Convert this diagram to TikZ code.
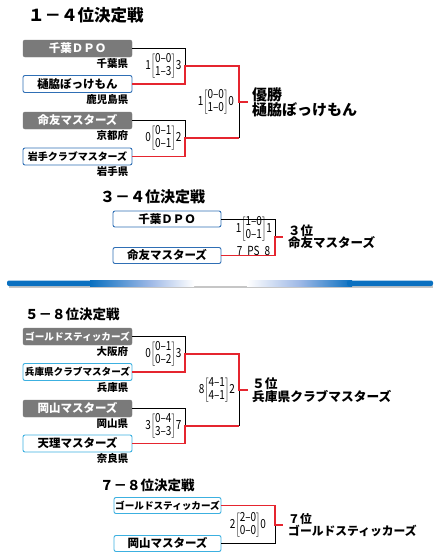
\documentclass[tikz,border=0pt]{standalone}
\usepackage{fontspec}
\usepackage{graphicx}
\setmainfont{Noto Sans CJK JP}
\usetikzlibrary{positioning}

\definecolor{lostgray}{HTML}{7A7A7A}
\definecolor{winblue}{HTML}{2F6FB5}
\definecolor{wincyan}{HTML}{3CB0E0}
\definecolor{winred}{HTML}{E5252F}
\definecolor{barblue}{HTML}{0A70C0}
\definecolor{barlight}{HTML}{9DB8E6}

% score: left, first half, second half, right
\newcommand{\score}[4]{\scalebox{0.8}[1]{#1$\left[\mbox{\begin{tabular}{@{}c@{}}#2\\#3\end{tabular}}\right]$#4}}

\tikzset{
  team/.style={
    % The shape:
    rectangle, rounded corners=2pt,
    % The size:
    minimum width=109pt, minimum height=17pt, inner sep=0pt,
    % Font
    font=\fontsize{11.5}{12}\selectfont\bfseries,
  },
  lost/.style={
    team,
    % The filling:
    fill=lostgray, draw=lostgray, text=white,
  },
  won/.style={
    team,
    % The border:
    draw=winblue, line width=0.9pt, fill=white,
  },
  wonc/.style={
    team,
    draw=wincyan, line width=0.9pt, fill=white,
  },
  small/.style={font=\fontsize{9.6}{10}\selectfont\bfseries}, % long names
  pref/.style={font=\fontsize{10.5}{11}\selectfont\bfseries, inner sep=0pt},
  title/.style={font=\fontsize{#1}{#1}\selectfont\bfseries, anchor=west, inner sep=0pt},
  result/.style={font=\fontsize{#1}{#1}\selectfont\bfseries, anchor=west, align=left, inner sep=0pt},
  scorebox/.style={font=\fontsize{12.5}{13}\selectfont, inner sep=0pt},
  lose/.style={black, line width=0.8pt},
  win/.style={winred, line width=1.8pt},
}

\begin{document}
\begin{tikzpicture}[x=1pt, y=-1pt]

  \useasboundingbox (0, 0) rectangle (440, 560);

  % ---- 1-4 ----
  \node at (28, 15) (t14) [title=16.5] {１－４位決定戦};

  \node at (77.5, 48.5) (a1) [lost] {千葉ＤＰＯ};
  \node at (77.5, 84) (a2) [won] {樋脇ぼっけもん};
  \node at (77.5, 120.5) (a3) [lost] {命友マスターズ};
  \node at (77.5, 156.5) (a4) [won, font=\fontsize{10}{10}\selectfont\bfseries] {岩手クラブマスターズ};

  \node (pa1) [pref, below left=1pt and 4pt of a1.south east] {千葉県};
  \node (pa2) [pref, below left=1pt and 4pt of a2.south east] {鹿児島県};
  \node (pa3) [pref, below left=1pt and 4pt of a3.south east] {京都府};
  \node (pa4) [pref, below left=1pt and 4pt of a4.south east] {岩手県};

  \coordinate (qa1) at (185, 66);
  \coordinate (qa2) at (185, 138);
  \coordinate (fa) at (239, 102);

  \draw [lose] (a1.east) to (a1.east -| qa1) to (qa1);
  \draw [lose] (a3.east) to (a3.east -| qa2) to (qa2);
  \draw [lose] (qa2 -| fa) to (fa);
  \draw [win] (a2.east) to (a2.east -| qa1) to (qa1) to (qa1 -| fa) to (fa) to ++(9, 0) coordinate (wa);
  \draw [win] (a4.east) to (a4.east -| qa2) to (qa2) to (qa2 -| fa);

  \node (sa1) [scorebox, left=3.5pt of qa1] {\score{1}{0–0}{1–3}{3}};
  \node (sa2) [scorebox, left=3.5pt of qa2] {\score{0}{0–1}{0–1}{2}};
  \node (sa3) [scorebox, left=5pt of fa] {\score{1}{0–0}{1–0}{0}};

  \node (ra) [result=15, right=4pt of wa] {優勝\\樋脇ぼっけもん};

  % ---- 3-4 ----
  \node at (100, 197) (t34) [title=15] {３－４位決定戦};

  \node at (167, 219) (b1) [won, minimum width=108pt, minimum height=16pt] {千葉ＤＰＯ};
  \node at (167, 255.5) (b2) [won, minimum width=108pt, minimum height=16pt] {命友マスターズ};

  \coordinate (fb) at (275, 237);
  \draw [lose] (b1.east) to (b1.east -| fb) to (fb);
  \draw [win] (b2.east) to (b2.east -| fb) to (fb) to ++(8, 0) coordinate (wb);

  \node at (272, 229) (sb) [scorebox, anchor=east] {\score{1}{1–0}{0–1}{1}};
  \node at (253.5, 251) (pk) [scorebox] {\scalebox{0.8}[1]{7\enspace PS\enspace 8}};

  \node (rb) [result=12.5, right=5pt of wb] {３位\\命友マスターズ};

  % separator
  \fill [gray!45] (9, 284.5) rectangle (433, 288);
  \fill [barblue, rounded corners=2pt] (7, 280.5) rectangle (95, 286);
  \shade [left color=barblue, right color=barlight] (90, 280.5) rectangle (150, 286);
  \shade [left color=barlight, right color=white] (150, 280.5) rectangle (194, 286);
  \fill [white] (194, 280.5) rectangle (247, 286);
  \shade [left color=white, right color=barlight] (247, 280.5) rectangle (300, 286);
  \shade [left color=barlight, right color=barblue] (300, 280.5) rectangle (352, 286);
  \fill [barblue, rounded corners=2pt] (347, 280.5) rectangle (433, 286);

  % ---- 5-8 ----
  \node at (25, 314) (t58) [title=13.5] {５－８位決定戦};

  \node at (77.5, 336.5) (c1) [lost, small] {ゴールドスティッカーズ};
  \node at (77.5, 372) (c2) [wonc, small] {兵庫県クラブマスターズ};
  \node at (77.5, 408.5) (c3) [lost] {岡山マスターズ};
  \node at (77.5, 443.5) (c4) [wonc] {天理マスターズ};

  \node (pc1) [pref, below left=1pt and 4pt of c1.south east] {大阪府};
  \node (pc2) [pref, below left=1pt and 4pt of c2.south east] {兵庫県};
  \node (pc3) [pref, below left=1pt and 4pt of c3.south east] {岡山県};
  \node (pc4) [pref, below left=1pt and 4pt of c4.south east] {奈良県};

  \coordinate (qc1) at (185, 354);
  \coordinate (qc2) at (185, 426);
  \coordinate (fc) at (239, 390);

  \draw [lose] (c1.east) to (c1.east -| qc1) to (qc1);
  \draw [lose] (c3.east) to (c3.east -| qc2) to (qc2);
  \draw [lose] (qc2 -| fc) to (fc);
  \draw [win] (c2.east) to (c2.east -| qc1) to (qc1) to (qc1 -| fc) to (fc) to ++(9, 0) coordinate (wc);
  \draw [win] (c4.east) to (c4.east -| qc2) to (qc2) to (qc2 -| fc);

  \node (sc1) [scorebox, left=3.5pt of qc1] {\score{0}{0–1}{0–2}{3}};
  \node (sc2) [scorebox, left=3.5pt of qc2] {\score{3}{0–4}{3–3}{7}};
  \node (sc3) [scorebox, left=4pt of fc] {\score{8}{4–1}{4–1}{2}};

  \node (rc) [result=12.7, right=4pt of wc] {５位\\兵庫県クラブマスターズ};

  % ---- 7-8 ----
  \node at (100, 485) (t78) [title=13.5] {７－８位決定戦};

  \node at (167.5, 505.5) (d1) [wonc, small, minimum width=107pt, minimum height=16pt] {ゴールドスティッカーズ};
  \node at (167.5, 543.5) (d2) [wonc, minimum width=107pt, minimum height=16pt] {岡山マスターズ};

  \coordinate (fd) at (275, 525);
  \draw [lose] (d2.east) to (d2.east -| fd) to (fd);
  \draw [win] (d1.east) to (d1.east -| fd) to (fd) to ++(8, 0) coordinate (wd);

  \node at (248, 525) (sd) [scorebox] {\score{2}{2–0}{0–0}{0}};

  \node (rd) [result=11.8, right=5pt of wd] {７位\\ゴールドスティッカーズ};

\end{tikzpicture}
\end{document}
